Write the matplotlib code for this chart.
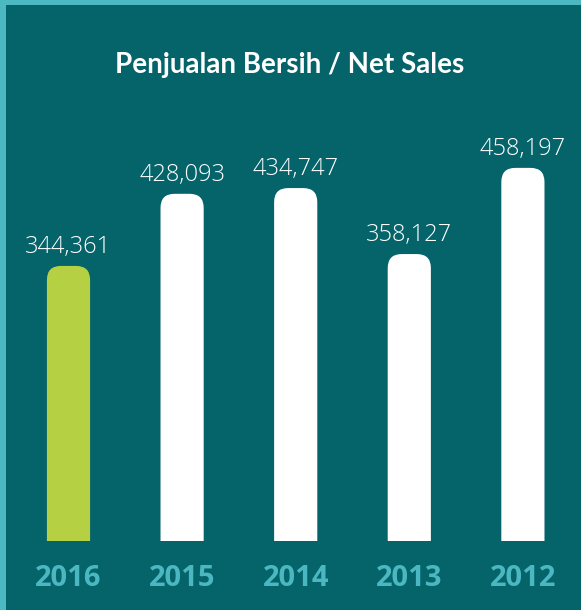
import matplotlib
matplotlib.use("Agg")
import matplotlib.pyplot as plt
from matplotlib.patches import FancyBboxPatch, Rectangle

# Data
years = ['2016', '2015', '2014', '2013', '2012']
net_sales = [344361, 428093, 434747, 358127, 458197]
labels = ['344,361', '428,093', '434,747', '358,127', '458,197']

bg = '#05636a'
border = '#4cb8c1'
green = '#b5d143'
year_col = '#4bb8c1'

W, H = 581, 610
fig = plt.figure(figsize=(W / 100, H / 100), dpi=100)
fig.patch.set_facecolor(bg)

# light border strips on the top and left
fig.patches.append(Rectangle((0, 1 - 5 / H), 1, 5 / H, transform=fig.transFigure,
                             facecolor=border, edgecolor='none', zorder=0))
fig.patches.append(Rectangle((0, 0), 6 / W, 1, transform=fig.transFigure,
                             facecolor=border, edgecolor='none', zorder=0))

# axes placed so bar centres / bottoms fall where they are in the picture
step = 113.6
left_px = 68.5 - step / 2
top_px, bottom_px = 100, 541
ax = fig.add_axes([left_px / W, (H - bottom_px) / H, 5 * step / W, (bottom_px - top_px) / H])
ax.set_facecolor(bg)
ax.set_xlim(-0.5, 4.5)
y_lo, y_hi = 25000, 537000
ax.set_ylim(y_lo, y_hi)
ax.axis('off')

bar_w = 0.38
units_per_px_y = (y_hi - y_lo) / (bottom_px - top_px)
units_per_px_x = 1 / step
aspect = units_per_px_y / units_per_px_x
radius_px = 14

for i, (v, lab) in enumerate(zip(net_sales, labels)):
    col = green if i == 0 else 'white'
    p = FancyBboxPatch((i - bar_w / 2, 0), bar_w, v,
                       boxstyle=f"round,pad=0,rounding_size={radius_px * units_per_px_x}",
                       mutation_aspect=aspect, facecolor=col, edgecolor='none')
    ax.add_patch(p)
    ax.annotate(lab, (i, v), xytext=(0, 5), textcoords='offset points',
                ha='center', va='bottom', color='white', fontsize=17,
                family='Open Sans', weight='light')
    ax.text(i, -37 / (bottom_px - top_px), years[i], transform=ax.get_xaxis_transform(),
            ha='center', va='center', color=year_col, fontsize=21,
            family='Open Sans', weight='bold')

fig.text(290 / W, 1 - 65 / H, 'Penjualan Bersih / Net Sales', ha='center', va='center',
         color='white', fontsize=20, family='Lato', weight='bold')

fig.savefig('out.png', dpi=100, facecolor=bg)
